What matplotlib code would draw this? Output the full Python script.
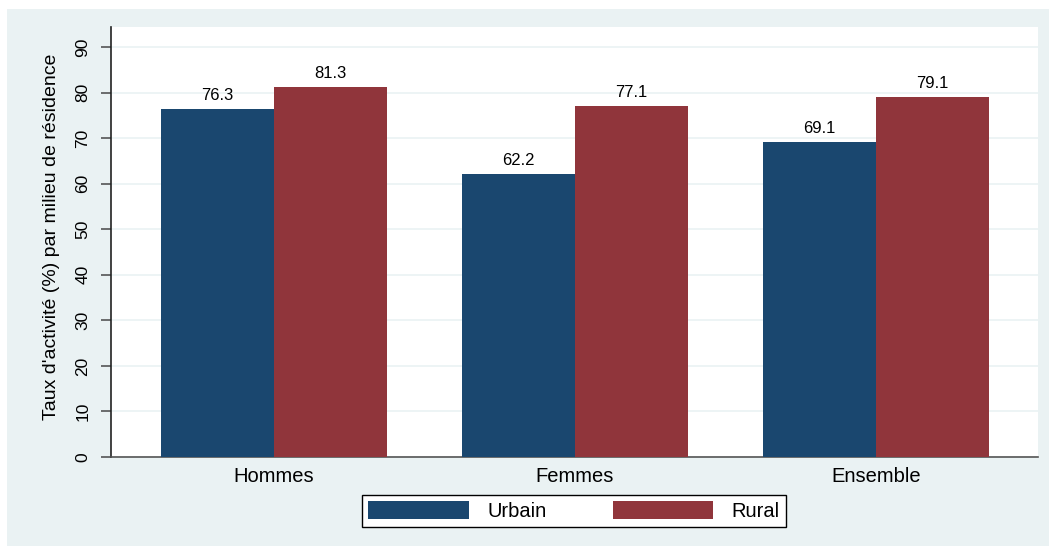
import matplotlib
matplotlib.use("Agg")
import matplotlib.pyplot as plt
import numpy as np
from matplotlib.patches import Rectangle, Patch

plt.rcParams['font.family'] = ['Liberation Sans', 'DejaVu Sans']

categories = ["Hommes", "Femmes", "Ensemble"]
urbain = [76.3, 62.2, 69.1]
rural = [81.3, 77.1, 79.1]
series_names = ["Urbain", "Rural"]
yticks = [0, 10, 20, 30, 40, 50, 60, 70, 80, 90]

W, H = 1049, 546
fig = plt.figure(figsize=(W / 100, H / 100), dpi=100)
fig.patch.set_facecolor("white")

bg = "#EAF2F3"
panel = Rectangle((7 / W, 0), 1 - 7 / W, (H - 9) / H,
                  transform=fig.transFigure, facecolor=bg,
                  edgecolor="none", zorder=-10)
fig.add_artist(panel)

left, right, top, bottom = 111, 1038, 27, 457
ax = fig.add_axes([left / W, (H - bottom) / H, (right - left) / W, (bottom - top) / H])
ax.set_zorder(1)
ax.set_facecolor("white")

navy = "#1A476F"
maroon = "#90353B"
x = np.arange(len(categories))
w = 0.375
b1 = ax.bar(x - w / 2, urbain, w, color=navy, zorder=3)
b2 = ax.bar(x + w / 2, rural, w, color=maroon, zorder=3)

for bars, vals in ((b1, urbain), (b2, rural)):
    for rect, v in zip(bars, vals):
        ax.text(rect.get_x() + rect.get_width() / 2, v + 2.0, f"{v:.1f}",
                ha="center", va="baseline", fontsize=12, color="black")

ax.set_xlim(-0.5415, 2.538)
ax.set_ylim(0, 94.4)
ax.set_yticks(yticks)
ax.set_yticklabels([str(t) for t in yticks], rotation=90, va="center", fontsize=12.5)
ax.set_xticks(x)
ax.set_xticklabels(categories, fontsize=14.5)
ax.tick_params(axis="x", length=0, pad=7)
ax.tick_params(axis="y", length=7.2, width=1.2, color="#555555", pad=7.5)
ax.yaxis.grid(True, color="#EAF2F3", linewidth=1.2, zorder=0)
ax.set_axisbelow(True)
for s in ("top", "right"):
    ax.spines[s].set_visible(False)
ax.spines["left"].set_color("#222222")
ax.spines["bottom"].set_color("#555555")
ax.spines["left"].set_linewidth(1.2)
ax.spines["bottom"].set_linewidth(1.2)

ax.set_ylabel("Taux d'activité (%) par milieu de résidence", fontsize=14,
              va="center")
ax.yaxis.set_label_coords(-0.064, 0.513)

handles = [Patch(facecolor=navy, edgecolor="none"), Patch(facecolor=maroon, edgecolor="none")]
leg = fig.legend(handles, series_names, loc="center",
                 bbox_to_anchor=((355 + 793) / 2 / W, 1 - 511 / H),
                 ncol=2, fontsize=14.5, frameon=True, fancybox=False, framealpha=1,
                 handlelength=5.0, handleheight=0.95, columnspacing=3.3,
                 handletextpad=0.9, borderpad=0.32, borderaxespad=0)
leg.get_frame().set_edgecolor("black")
leg.get_frame().set_linewidth(1.0)
leg.get_frame().set_facecolor("white")

fig.savefig("out.png", dpi=100, facecolor=fig.get_facecolor())
